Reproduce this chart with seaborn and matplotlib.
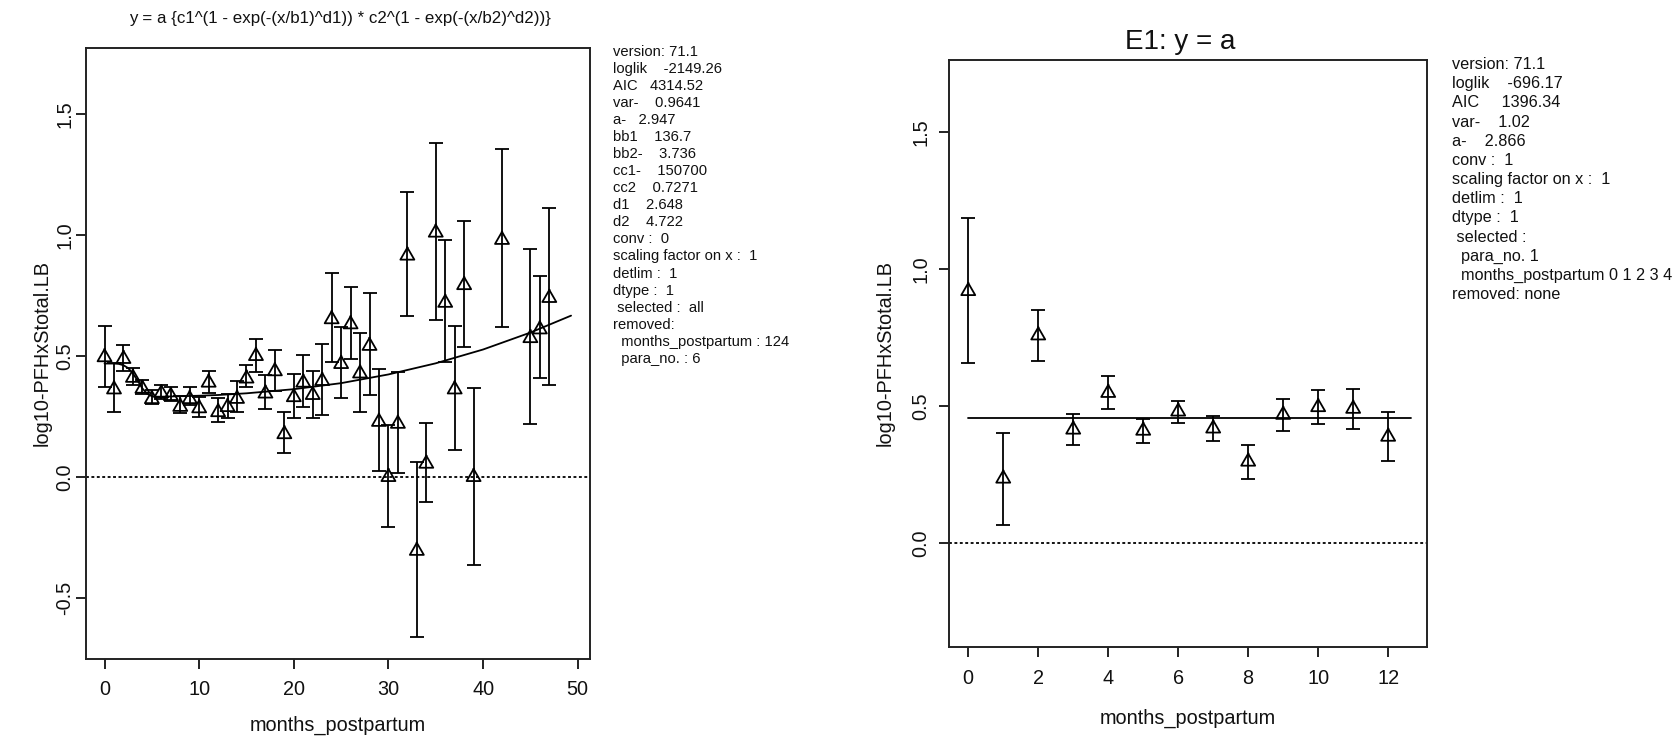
import numpy as np
import matplotlib
matplotlib.use("Agg")
import matplotlib.pyplot as plt
from matplotlib.path import Path
import seaborn as sns

sns.set_style("white")
plt.rcParams["font.family"] = ["Liberation Sans", "DejaVu Sans"]

# ---------------- Model 1: all months ----------------
months_1 = [0, 1, 2, 3, 4, 5, 6, 7, 8, 9, 10, 11, 12, 13, 14, 15, 16, 17, 18, 19,
            20, 21, 22, 23, 24, 25, 26, 27, 28, 29, 30, 31, 32, 33, 34, 35, 36, 37,
            38, 39, 42, 45, 46, 47]
log_pfhxs_1 = [0.495, 0.362, 0.488, 0.410, 0.365, 0.322, 0.346, 0.335, 0.290, 0.322,
               0.284, 0.390, 0.268, 0.289, 0.323, 0.407, 0.500, 0.345, 0.437, 0.177,
               0.330, 0.390, 0.339, 0.397, 0.652, 0.467, 0.631, 0.428, 0.542, 0.228,
               0.000, 0.220, 0.915, -0.305, 0.055, 1.010, 0.720, 0.362, 0.793, 0.000,
               0.980, 0.574, 0.610, 0.740]
ci_low_1 = [0.370, 0.268, 0.440, 0.382, 0.345, 0.302, 0.323, 0.316, 0.264, 0.298,
            0.250, 0.349, 0.229, 0.243, 0.268, 0.371, 0.435, 0.280, 0.355, 0.098,
            0.243, 0.289, 0.243, 0.257, 0.476, 0.326, 0.488, 0.268, 0.337, 0.023,
            -0.207, 0.016, 0.665, -0.662, -0.105, 0.647, 0.475, 0.110, 0.539, -0.364,
            0.622, 0.218, 0.408, 0.381]
ci_high_1 = [0.626, 0.470, 0.546, 0.451, 0.400, 0.358, 0.382, 0.371, 0.334, 0.370,
             0.330, 0.439, 0.326, 0.343, 0.395, 0.464, 0.571, 0.421, 0.527, 0.267,
             0.427, 0.506, 0.438, 0.550, 0.842, 0.622, 0.785, 0.596, 0.760, 0.446,
             0.213, 0.434, 1.177, 0.064, 0.222, 1.380, 0.980, 0.626, 1.056, 0.368,
             1.354, 0.943, 0.830, 1.112]
fit_x_1 = [0, 1, 1.5, 2, 2.5, 3, 3.5, 4, 4.5, 5, 5.5, 6, 8, 10, 12, 15, 20, 25,
           30, 35, 40, 45, 49.3]
fit_y_1 = [0.469, 0.469, 0.4675, 0.462, 0.450, 0.428, 0.398, 0.366, 0.344, 0.334,
           0.332, 0.332, 0.334, 0.336, 0.339, 0.346, 0.363, 0.388, 0.424, 0.470,
           0.527, 0.597, 0.667]
title_1 = "y = a {c1^(1 - exp(-(x/b1)^d1)) * c2^(1 - exp(-(x/b2)^d2))}"
info_1 = ["version: 71.1", "loglik    -2149.26", "AIC   4314.52", "var-    0.9641",
          "a-   2.947", "bb1    136.7", "bb2-    3.736", "cc1-    150700",
          "cc2    0.7271", "d1    2.648", "d2    4.722", "conv :  0",
          "scaling factor on x :  1", "detlim :  1", "dtype :  1", " selected :  all",
          "removed:", "  months_postpartum : 124", "  para_no. : 6"]

# ---------------- Model 2: first year, constant ----------------
months_2 = [0, 1, 2, 3, 4, 5, 6, 7, 8, 9, 10, 11, 12]
log_pfhxs_2 = [0.920, 0.235, 0.758, 0.414, 0.548, 0.410, 0.480, 0.418, 0.297,
               0.468, 0.496, 0.490, 0.388]
ci_low_2 = [0.657, 0.067, 0.665, 0.358, 0.488, 0.365, 0.439, 0.372, 0.235,
            0.409, 0.433, 0.416, 0.298]
ci_high_2 = [1.186, 0.402, 0.852, 0.470, 0.608, 0.454, 0.520, 0.464, 0.358,
             0.526, 0.558, 0.564, 0.479]
fit_x_2 = [0, 12.66]
fit_y_2 = [0.4573, 0.4573]
title_2 = "E1: y = a"
info_2 = ["version: 71.1", "loglik    -696.17", "AIC     1396.34", "var-    1.02",
          "a-    2.866", "conv :  1", "scaling factor on x :  1", "detlim :  1",
          "dtype :  1", " selected :", "  para_no. 1", "  months_postpartum 0 1 2 3 4",
          "removed: none"]

x_label = "months_postpartum"
y_label = "log10-PFHxStotal.LB"

# ---------------- figure ----------------
W, H = 1681, 739
fig = plt.figure(figsize=(W / 100, H / 100), dpi=100)


def px_box(left, top, right, bottom):
    return [left / W, 1 - bottom / H, (right - left) / W, (bottom - top) / H]


ax1 = fig.add_axes(px_box(86, 48, 590, 659))
ax2 = fig.add_axes(px_box(949, 60, 1427, 647))

# open triangle (centroid at the data value) and the small dot at its apex
tri_verts = [(0, 1.555), (1.3468, -0.7776), (-1.3468, -0.7776), (0, 1.555)]
tri_marker = Path(tri_verts, [Path.MOVETO, Path.LINETO, Path.LINETO, Path.CLOSEPOLY])
dot_r = 0.22
dot_marker = Path.circle(center=(0, 1.555), radius=dot_r)
ms = 11.6
ms_dot = ms * (1.555 + dot_r) / 1.555

LW = 1.3
INK = "black"


def draw_panel(ax, xs, ys, lo, hi, fx, fy):
    ys = np.asarray(ys)
    err = [ys - np.asarray(lo), np.asarray(hi) - ys]
    ax.errorbar(xs, ys, yerr=err, fmt="none", ecolor=INK, elinewidth=LW,
                capsize=5, capthick=LW, zorder=3)
    sns.scatterplot(x=xs, y=ys, marker=tri_marker, s=ms ** 2, color=INK,
                    facecolor="none", edgecolor=INK, linewidth=LW, ax=ax, zorder=4)
    sns.scatterplot(x=xs, y=ys, marker=dot_marker, s=ms_dot ** 2, color=INK,
                    edgecolor="none", linewidth=0, ax=ax, zorder=5)
    sns.lineplot(x=fx, y=fy, color=INK, linewidth=LW, estimator=None, sort=False,
                 ax=ax, zorder=4)
    ax.axhline(0, color=INK, linewidth=1.3, linestyle=(0, (1.6, 1.4)), zorder=2)


def style_axes(ax, xlim, ylim, xticks, yticks, xpad, ypad, ylab_x, xlab_y):
    ax.set_xlim(xlim)
    ax.set_ylim(ylim)
    ax.set_xticks(xticks)
    ax.set_xticklabels([f"{t:g}" for t in xticks])
    ax.set_yticks(yticks)
    ax.set_yticklabels([f"{t:.1f}" for t in yticks], rotation=90, va="center")
    for sp in ax.spines.values():
        sp.set_visible(True)
        sp.set_linewidth(1.4)
        sp.set_color("#222222")
    ax.tick_params(axis="both", direction="out", length=7, width=1.4,
                   color="#222222", labelsize=14.3, labelcolor="#111111")
    ax.tick_params(axis="x", pad=xpad, bottom=True, top=False)
    ax.tick_params(axis="y", pad=ypad, left=True, right=False)
    ax.set_xlabel(x_label, fontsize=14.3, color="#111111")
    ax.set_ylabel(y_label, fontsize=14.3, color="#111111")
    ax.yaxis.set_label_coords(ylab_x, 0.5)
    ax.xaxis.set_label_coords(0.5, xlab_y)


draw_panel(ax1, months_1, log_pfhxs_1, ci_low_1, ci_high_1, fit_x_1, fit_y_1)
style_axes(ax1, (-1.96, 51.3), (-0.752, 1.773), [0, 10, 20, 30, 40, 50],
           [-0.5, 0.0, 0.5, 1.0, 1.5], 8, 1.5, -0.0689, -0.093)

draw_panel(ax2, months_2, log_pfhxs_2, ci_low_2, ci_high_2, fit_x_2, fit_y_2)
style_axes(ax2, (-0.55, 13.11), (-0.38, 1.764), [0, 2, 4, 6, 8, 10, 12],
           [0.0, 0.5, 1.0, 1.5], 9, 6.5, -0.1144, -0.1056)

# titles
fig.text(340 / W, 1 - 19 / H, title_1, ha="center", va="center", fontsize=12.2,
         color="#111111")
fig.text(1180 / W, 1 - 42 / H, title_2, ha="center", va="center", fontsize=20,
         color="#111111")

# fit summaries beside each panel
for i, line in enumerate(info_1):
    fig.text(612.7 / W, 1 - (56.0 + 17.04 * i) / H, line, ha="left", va="baseline",
             fontsize=10.6, color="#111111")
for i, line in enumerate(info_2):
    fig.text(1451.7 / W, 1 - (69.1 + 19.17 * i) / H, line, ha="left", va="baseline",
             fontsize=11.7, color="#111111")

fig.savefig("out.png", dpi=100)
